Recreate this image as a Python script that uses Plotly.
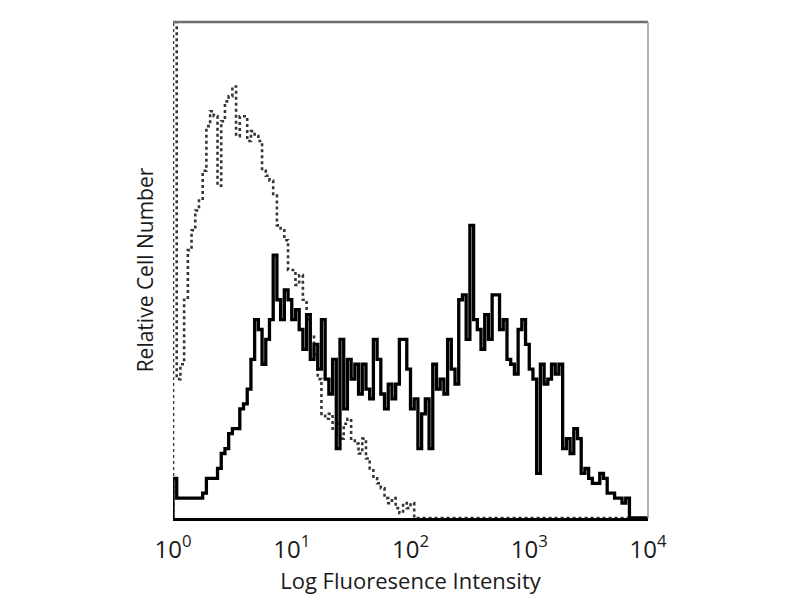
import numpy as np
import plotly.graph_objects as go

# 128 channels over 4 log decades (10^0 .. 10^4)
n_bins = 128
edges = np.logspace(0, 4, n_bins + 1)

# isotype control (dotted), relative counts 0-100
control = [100, 28, 31, 44, 54, 58, 62, 64, 70, 79, 82, 81, 67, 80, 84, 85,
           87, 77, 81, 81, 76, 78, 77, 76, 70, 69, 68, 65, 59, 58, 56, 50,
           50, 47, 49, 44, 40, 37, 33, 28, 21, 20, 21, 18, 19, 16, 19, 20,
           16, 15, 13, 16, 12, 10, 8, 7, 6, 4, 3, 4, 2, 1, 3, 2,
           3, 0, 0, 0, 0, 0, 0, 0, 0, 0, 0, 0, 0, 0, 0, 0,
           0, 0, 0, 0, 0, 0, 0, 0, 0, 0, 0, 0, 0, 0, 0, 0,
           0, 0, 0, 0, 0, 0, 0, 0, 0, 0, 0, 0, 0, 0, 0, 0,
           0, 0, 0, 0, 0, 0, 0, 0, 0, 0, 0, 0, 0, 0, 0, 0]

# stained sample (solid)
stained = [8, 4, 4, 4, 4, 4, 4, 4, 5, 8, 8, 8, 10, 13, 14, 17,
           18, 18, 22, 23, 26, 32, 40, 38, 31, 36, 40, 53, 44, 40, 46, 44,
           40, 42, 38, 34, 41, 32, 35, 30, 40, 28, 25, 32, 14, 36, 22, 32,
           28, 31, 25, 31, 26, 24, 36, 32, 25, 22, 27, 24, 27, 36, 36, 30,
           22, 24, 14, 21, 24, 14, 31, 26, 28, 25, 36, 30, 27, 44, 45, 36,
           59, 40, 38, 34, 41, 36, 45, 45, 38, 40, 32, 31, 29, 38, 40, 35,
           30, 28, 9, 31, 27, 28, 31, 29, 31, 14, 16, 13, 18, 16, 9, 10,
           8, 7, 7, 9, 8, 5, 5, 4, 4, 3, 4, 0, 0, 0, 0, 0]

tick_vals = [1, 10, 100, 1000, 10000]
tick_text = ["10<sup>0</sup>", "10<sup>1</sup>", "10<sup>2</sup>",
             "10<sup>3</sup>", "10<sup>4</sup>"]


def step_xy(vals):
    x = [edges[0]] + list(edges[:-1]) + [edges[-1]]
    y = [0] + list(vals) + [0]
    return x, y


fig = go.Figure()

cx, cy = step_xy(control)
fig.add_trace(go.Scatter(x=cx, y=cy, mode="lines", line_shape="hv",
                         line=dict(color="#363636", width=2.6, dash="dot"),
                         showlegend=False))

sx, sy = step_xy(stained)
fig.add_trace(go.Scatter(x=sx, y=sy, mode="lines", line_shape="hv",
                         line=dict(color="black", width=3.3),
                         showlegend=False))

# page body adds an 8px offset, margins are compensated for it
fig.update_layout(
    width=800, height=600,
    margin=dict(l=165, r=160, t=14, b=90),
    plot_bgcolor="white", paper_bgcolor="white",
    font=dict(family="Open Sans", color="#1a1a1a"),
    shapes=[
        dict(type="line", xref="paper", yref="paper", x0=0, x1=1, y0=1, y1=1,
             line=dict(color="#6e6e6e", width=2.5)),
        dict(type="line", xref="paper", yref="paper", x0=1, x1=1, y0=0, y1=1,
             line=dict(color="#9a9a9a", width=1.5)),
    ],
)
fig.update_xaxes(
    type="log", range=[0, 4],
    tickvals=tick_vals, ticktext=tick_text,
    tickfont=dict(size=24, color="#1a1a1a"),
    ticks="", ticklabelstandoff=8,
    showgrid=False, zeroline=False,
    showline=True, linecolor="black", linewidth=2.5,
    title=dict(text="Log Fluoresence Intensity", font=dict(size=22, color="#1a1a1a"),
               standoff=2),
)
fig.update_yaxes(
    range=[0, 100], showticklabels=False, ticks="",
    showgrid=False, zeroline=False, showline=False,
    title=dict(text="Relative Cell Number", font=dict(size=21, color="#1a1a1a"),
               standoff=12),
)

fig.write_html("out.html")
